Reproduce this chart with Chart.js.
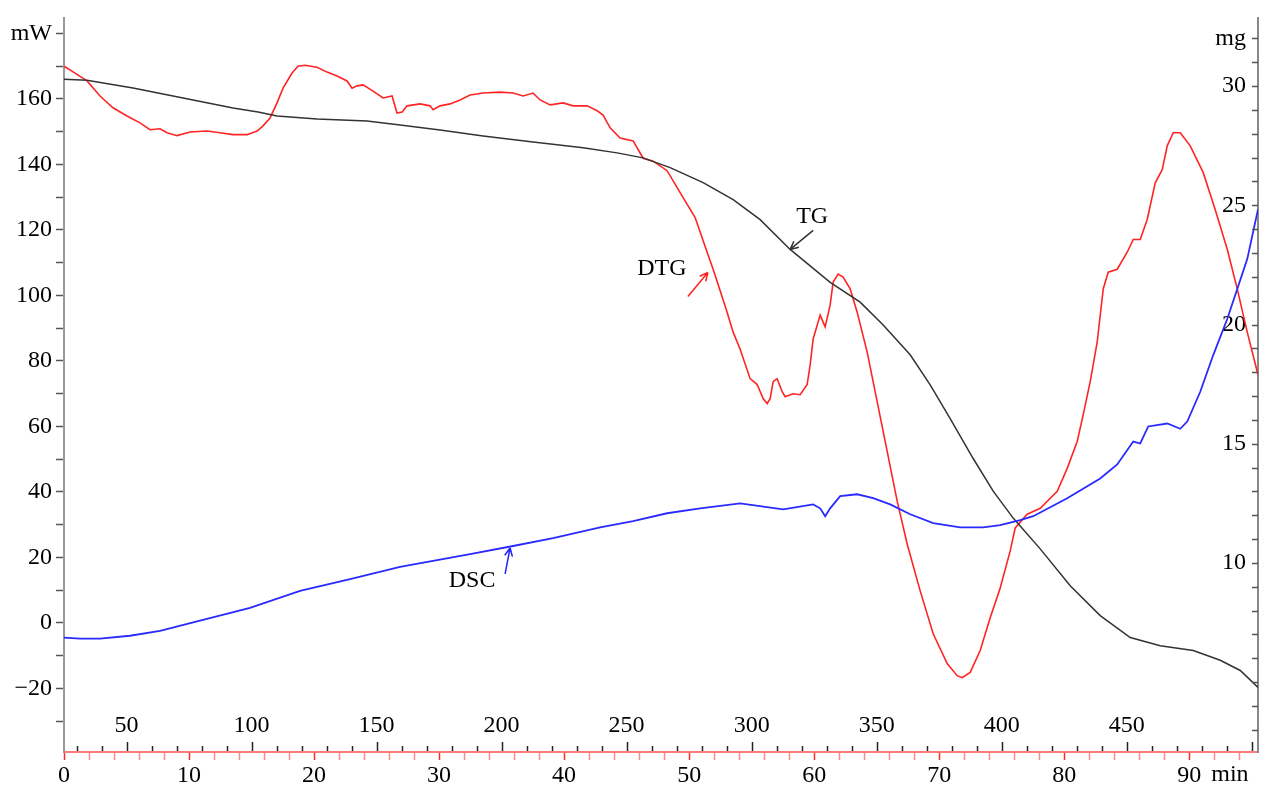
<!DOCTYPE html>
<html>
<head>
<meta charset="utf-8">
<script src="https://cdn.jsdelivr.net/npm/chart.js@4.4.1/dist/chart.umd.min.js"></script>
<style>
  html, body { margin: 0; padding: 0; background: #fff; }
  #wrap { width: 1261px; height: 790px; position: relative; }
</style>
</head>
<body>
<div id="wrap"><canvas id="chart"></canvas></div>
<script>
// DTG (red), read on the mW scale
const dtgTime = [0, 0.64, 1.84, 2.88, 3.92, 5.04, 6.08, 6.88, 7.68, 8.24, 9.04, 10.08, 11.44, 12.48, 13.52, 14.64,
  15.44, 15.92, 16.48, 17.04, 17.52, 18.24, 18.72, 19.28, 20.24, 21.04, 21.84, 22.64, 23.04, 23.44, 23.92, 24.72,
  25.52, 26.24, 26.64, 27.04, 27.44, 28.48, 29.28, 29.52, 30.08, 30.88, 31.68, 32.48, 33.52, 34.88, 35.92, 36.72,
  37.52, 38.08, 38.88, 39.92, 40.72, 41.84, 42.64, 43.12, 43.68, 44.48, 45.52, 46.08, 46.32, 47.12, 48.24, 49.28,
  50.48, 51.44, 51.92, 53.04, 53.52, 54.08, 54.88, 55.44, 55.92, 56.24, 56.48, 56.72, 57.04, 57.44, 57.68, 58.32,
  58.88, 59.44, 59.68, 59.92, 60.48, 60.88, 61.28, 61.52, 61.92, 62.32, 62.88, 63.44, 64.24, 65.04, 65.84, 66.64,
  67.44, 68.48, 69.52, 70.64, 71.44, 71.84, 72.48, 73.28, 74.08, 74.88, 75.68, 76.08, 77.04, 78.08, 79.44, 80.24,
  81.04, 81.52, 82.08, 82.64, 83.12, 83.52, 84.24, 85.04, 85.52, 86.08, 86.64, 87.28, 87.84, 88.24, 88.72, 89.28,
  90.08, 91.12, 92.08, 93.04, 93.84, 94.64, 95.5];
const dtgValue = [170.0, 168.5, 165.5, 160.9, 157.3, 154.8, 152.7, 150.6, 150.9, 149.7, 148.8, 149.9, 150.2, 149.7, 149.1, 149.1,
  150.2, 151.8, 154.2, 158.8, 163.3, 167.9, 170.0, 170.3, 169.7, 168.2, 167.0, 165.5, 163.3, 164.0, 164.3, 162.4,
  160.3, 160.9, 155.7, 156.0, 157.9, 158.5, 157.9, 156.7, 157.9, 158.5, 159.7, 161.2, 161.8, 162.1, 161.8, 160.9,
  161.8, 159.7, 158.2, 158.8, 157.9, 157.9, 156.4, 155.1, 151.2, 148.1, 147.2, 143.5, 141.9, 141.0, 138.1, 131.4,
  123.8, 113.2, 108.0, 94.9, 88.8, 83.6, 74.6, 72.8, 68.5, 67.0, 68.5, 73.7, 74.6, 70.6, 69.1, 70.0,
  69.7, 72.8, 78.8, 86.7, 94.0, 90.4, 97.1, 104.1, 106.5, 105.6, 102.0, 94.9, 82.7, 67.6, 52.4, 37.2,
  24.1, 9.8, -3.3, -12.4, -16.1, -16.7, -15.1, -8.4, 1.6, 10.7, 22.0, 29.0, 33.2, 35.0, 40.2, 47.2,
  55.4, 63.6, 73.7, 85.8, 102.0, 107.1, 108.0, 113.2, 117.1, 117.1, 123.2, 134.4, 138.4, 145.7, 149.7, 149.7,
  145.7, 137.5, 126.2, 114.1, 102.0, 88.8, 75.8];

// TG (black), mg scale on the right
const tgTime = [0, 1.84, 5.52, 9.52, 13.52, 15.52, 17.04, 20.24, 24.24, 26.88, 30.08, 33.52, 37.52, 41.52, 44.24, 46.32,
  48.48, 51.12, 53.52, 55.68, 58.08, 61.28, 63.68, 65.52, 67.68, 69.28, 70.88, 72.72, 74.32, 75.92, 78.08, 80.48,
  82.88, 85.28, 87.68, 90.32, 92.48, 94.08, 95.5];
const tgMass = [30.29, 30.25, 29.92, 29.50, 29.08, 28.91, 28.75, 28.62, 28.54, 28.37, 28.16, 27.91, 27.66, 27.41, 27.20, 26.99,
  26.58, 25.95, 25.24, 24.40, 23.15, 21.77, 20.94, 19.98, 18.73, 17.47, 16.05, 14.38, 13.01, 11.88, 10.59, 9.04,
  7.79, 6.87, 6.53, 6.33, 5.92, 5.49, 4.78];

// DSC (blue), mW
const dscTime = [0, 1.28, 2.88, 5.28, 7.68, 10.88, 14.88, 18.88, 22.88, 26.88, 32.48, 35.92, 39.12, 42.88, 45.52, 48.24,
  50.88, 54.08, 57.52, 59.92, 60.48, 60.88, 61.28, 62.08, 63.44, 64.72, 66.08, 67.68, 69.52, 71.68, 73.52, 74.88,
  76.48, 77.52, 80.24, 82.88, 84.24, 85.52, 86.08, 86.72, 88.24, 89.28, 89.84, 90.88, 91.92, 93.04, 93.84, 94.64, 95.5];
const dscValue = [-4.5, -4.8, -4.8, -3.9, -2.4, 0.7, 4.6, 9.8, 13.4, 17.1, 21.0, 23.5, 25.9, 29.2, 31.1, 33.5,
  35.0, 36.5, 34.7, 36.2, 35.0, 32.6, 35.0, 38.7, 39.3, 38.1, 36.2, 33.2, 30.5, 29.2, 29.2, 29.9,
  31.4, 32.6, 38.1, 44.1, 48.4, 55.4, 54.8, 60.0, 60.9, 59.3, 61.5, 70.6, 81.8, 92.8, 102.0, 111.1, 126.3];

// temperature scale labels, °C (T = 25 + 5·t)
const tempLabels = [50, 100, 150, 200, 250, 300, 350, 400, 450];
// labelled mass ticks, mg
const massLabels = [10, 15, 20, 25, 30];

// curve labels: arrow tip on the curve
const curveNames = ['TG', 'DTG', 'DSC'];
const nameTime = [58.08, 51.5, 35.68];
const nameValue = [23.15, 107, 22.9];
const nameAxis = ['y2', 'y', 'y'];

const serif = '"Liberation Serif", "Times New Roman", serif';
const nameStyle = {
  TG:  { color: '#333', tail: [23, -19], text: [22, -33] },
  DTG: { color: '#ff2020', tail: [-20, 24], text: [-46, -4] },
  DSC: { color: '#2020ff', tail: [-5, 26], text: [-38, 33] }
};

const toPoints = (xs, ys) => xs.map((t, i) => ({ x: t, y: ys[i] }));

// доп. оси: температура, внутренние риски справа, подписи кривых
const extraAxes = {
  id: 'extraAxes',
  afterDraw(chart) {
    const { ctx, chartArea, scales } = chart;
    const x = scales.x, x2 = scales.x2, y2 = scales.y2;
    ctx.save();

    // black temperature ticks pointing up
    ctx.strokeStyle = '#222';
    ctx.lineWidth = 1.5;
    for (let T = 30; T <= x2.max; T += 10) {
      const px = Math.round(x2.getPixelForValue(T)) + 0.5;
      const len = T % 50 === 0 ? 9 : 5;
      ctx.beginPath();
      ctx.moveTo(px, chartArea.bottom - 1);
      ctx.lineTo(px, chartArea.bottom - 1 - len);
      ctx.stroke();
    }
    ctx.fillStyle = '#000';
    ctx.font = '24px ' + serif;
    ctx.textAlign = 'center';
    ctx.textBaseline = 'middle';
    tempLabels.forEach(T => ctx.fillText(String(T), x2.getPixelForValue(T), chartArea.bottom - 26));

    // "min" after the 90 label
    ctx.textAlign = 'left';
    ctx.fillText('min', x.getPixelForValue(90) + 22, chartArea.bottom + 23);

    // right mg axis: ticks pointing inward
    ctx.strokeStyle = '#555';
    ctx.lineWidth = 1.5;
    for (let m = Math.ceil(y2.min); m <= y2.max; m++) {
      const py = Math.round(y2.getPixelForValue(m)) + 0.5;
      ctx.beginPath();
      ctx.moveTo(chartArea.right, py);
      ctx.lineTo(chartArea.right - 6, py);
      ctx.stroke();
    }

    // curve names with arrows
    curveNames.forEach((name, i) => {
      const st = nameStyle[name];
      const tx = x.getPixelForValue(nameTime[i]);
      const ty = scales[nameAxis[i]].getPixelForValue(nameValue[i]);
      const ax = tx + st.tail[0], ay = ty + st.tail[1];
      ctx.strokeStyle = st.color;
      ctx.lineWidth = 1.5;
      ctx.beginPath();
      ctx.moveTo(ax, ay);
      ctx.lineTo(tx, ty);
      const ang = Math.atan2(ty - ay, tx - ax);
      for (const s of [-1, 1]) {
        ctx.moveTo(tx, ty);
        ctx.lineTo(tx - 9 * Math.cos(ang + s * 0.45), ty - 9 * Math.sin(ang + s * 0.45));
      }
      ctx.stroke();
      ctx.fillStyle = '#000';
      ctx.textAlign = 'center';
      ctx.font = '24px ' + serif;
      ctx.fillText(name, tx + st.text[0], ty + st.text[1]);
    });

    ctx.restore();
  }
};

const tickFont = { family: serif, size: 24 };

new Chart(document.getElementById('chart'), {
  type: 'line',
  data: {
    datasets: [
      { label: 'DSC', data: toPoints(dscTime, dscValue), yAxisID: 'y', borderColor: '#2a2aff', borderWidth: 1.8 },
      { label: 'TG', data: toPoints(tgTime, tgMass), yAxisID: 'y2', borderColor: '#333333', borderWidth: 1.5 },
      { label: 'DTG', data: toPoints(dtgTime, dtgValue), yAxisID: 'y', borderColor: '#ff2424', borderWidth: 1.6 }
    ]
  },
  options: {
    responsive: true,
    maintainAspectRatio: false,
    animation: false,
    layout: { padding: { top: 15 } },
    elements: { point: { radius: 0 }, line: { tension: 0 } },
    plugins: { legend: { display: false }, tooltip: { enabled: false } },
    scales: {
      x: {
        type: 'linear',
        position: 'bottom',
        min: 0,
        max: 95.5,
        afterFit: s => { s.height = 38; },
        ticks: {
          stepSize: 2,
          includeBounds: false,
          autoSkip: false,
          maxRotation: 0,
          padding: 1,
          color: '#000',
          font: tickFont,
          callback: v => (v % 10 === 0 ? String(v) : '')
        },
        grid: {
          drawOnChartArea: false,
          tickLength: 8,
          tickWidth: 1.5,
          tickColor: c => (c.tick && c.tick.value % 10 === 0 ? '#ff2a2a' : '#ff8a8a')
        },
        border: { color: '#ff7a7a', width: 2 }
      },
      x2: {
        type: 'linear',
        position: 'bottom',
        display: false,
        min: 25,
        max: 25 + 5 * 95.5
      },
      y: {
        position: 'left',
        min: -39.4,
        max: 184.6,
        afterFit: s => { s.width = 64; },
        ticks: {
          stepSize: 10,
          includeBounds: false,
          autoSkip: false,
          padding: 4,
          color: '#000',
          font: tickFont,
          callback: v => {
            if (v === 180) return 'mW';
            if (v % 20 !== 0) return '';
            return v < 0 ? '\u2212' + Math.abs(v) : String(v);
          }
        },
        grid: { drawOnChartArea: false, tickLength: 8, tickWidth: 1.5, tickColor: '#555' },
        border: { color: '#999', width: 2 }
      },
      y2: {
        position: 'right',
        min: 2.07,
        max: 32.84,
        afterFit: s => { s.width = 3; },
        ticks: {
          stepSize: 1,
          includeBounds: false,
          autoSkip: false,
          mirror: true,
          padding: -12,
          color: '#000',
          font: tickFont,
          callback: v => (v === 32 ? 'mg' : (massLabels.includes(v) ? String(v) : ''))
        },
        grid: { drawOnChartArea: false, drawTicks: false },
        border: { color: '#888', width: 2 }
      }
    }
  },
  plugins: [extraAxes]
});
</script>
</body>
</html>
